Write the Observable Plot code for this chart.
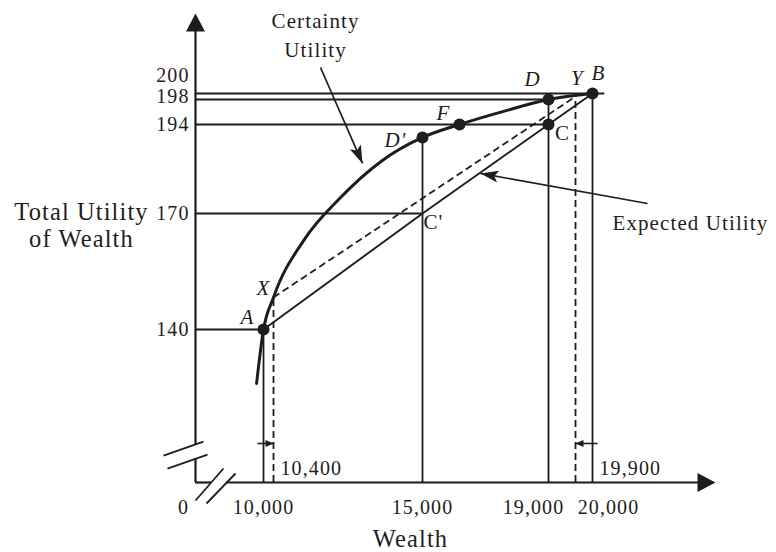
<!DOCTYPE html>
<html>
<head>
<meta charset="utf-8">
<script src="https://cdn.jsdelivr.net/npm/d3@7"></script>
<script src="https://cdn.jsdelivr.net/npm/@observablehq/plot@0.6"></script>
<style>
  html, body { margin: 0; padding: 0; background: #fff; }
</style>
</head>
<body>
<div id="chart"></div>
<script>
// ---------------- DATA ----------------
// Certainty utility curve (wealth, total utility)
const curveWealth  = [9780, 10000, 10400, 11330, 12470, 13730, 15000, 16175, 17570, 19000, 20000];
const curveUtility = [126, 140, 148.3, 163, 174.3, 184.1, 190.5, 194, 196.1, 198, 200];

// Named points
const pointNames   = ["A", "X", "C'", "D'", "F", "C", "D", "Y", "B"];
const pointWealth  = [10000, 10400, 15000, 15000, 16175, 19000, 19000, 19900, 20000];
const pointUtility = [140, 148.3, 170, 190.5, 194, 194, 198, 199, 200];
const pointMarked  = [true, false, false, true, true, true, true, false, true];

// Expected utility chord A -> C' -> C -> B, and the dashed chord X -> Y
const chordNames = ["A", "C'", "C", "B"];
const dashedChordNames = ["X", "Y"];

// Horizontal guides: utility level and the wealth where each guide stops
const guideUtility = [200, 198, 194, 170, 140];
const guideWealth  = [20400, 19000, 19000, 15000, 10000];
// Vertical guides (solid / dashed)
const dropWealth  = [10000, 15000, 19000, 20000];
const dropUtility = [140, 190.5, 198, 200];
const dashDropWealth  = [10400, 19900];
const dashDropUtility = [148.3, 199];

// Tick labels
const yTickValues = [200, 198, 194, 170, 140];
const xTickValues = [0, 10000, 15000, 19000, 20000];
const xTickLabels = ["0", "10,000", "15,000", "19,000", "20,000"];
const xInnerValues = [10400, 19900];
const xInnerLabels = ["10,400", "19,900"];

// Annotations
const certaintyText = "Certainty\nUtility";
const certaintyArrowFrom = [11851, 206.5];
const certaintyArrowTo   = [13148, 183.5];
const expectedText = "Expected Utility";
const expectedTextAt = [20650, 167.5];
const expectedArrowFrom = [21789, 172.7];
const expectedArrowTo   = [16841, 180.8];
const shiftArrowUtility = 61.6;
const shiftArrowFrom = [9810, 20163];
const shiftArrowTo   = [10400, 19900];

// Axis pieces (values): y axis broken between 37.9 and 60, x axis between 3945 and 7643
const yAxisPieces = [[0, 37.9], [60, 215.5]];
const xAxisPieces = [[0, 3945], [7643, 23500]];
const yAxisTop = 220, xAxisEnd = 24000;
const yBreakAt = 48.9, xBreakAt = 4931;

// ---------------- SCALES (schematic, piecewise) ----------------
const wealthDomain = [0, 9000, 10000, 10400, 15000, 19000, 19900, 20000, 24000];
const wealthRange  = [195, 231.5, 263, 273, 422, 548, 575, 592, 715];
const utilDomain = [0, 120, 140, 170, 194, 198, 200, 220];
const utilRange  = [482, 406, 329, 213, 124, 99, 93, 13];

// ---------------- STYLE ----------------
const INK = "#1f1d1c";
const SERIF = "'Liberation Serif', 'DejaVu Serif', serif";

const axisHead  = {draw(c) { c.moveTo(0, 0); c.lineTo(9.5, 18); c.lineTo(-9.5, 18); c.closePath(); }};
const barbHead  = {draw(c) { c.moveTo(0, 0); c.lineTo(6, 18); c.lineTo(0, 14); c.lineTo(-6, 18); c.closePath(); }};
const smallHead = {draw(c) { c.moveTo(0, 0); c.lineTo(3.5, 8); c.lineTo(-3.5, 8); c.closePath(); }};
const breakY = {draw(c) { c.moveTo(-32, 4); c.lineTo(8, -10); c.moveTo(-28, 17); c.lineTo(12, 3); }};
const breakX = {draw(c) { c.moveTo(-20, 18); c.lineTo(8, -14); c.moveTo(-9, 21); c.lineTo(20, -9); }};

const labelStyle = {
  "A":  {dx: -16, dy: -12, italic: true},
  "X":  {dx: -10, dy: -9,  italic: true},
  "C'": {dx: 11,  dy: 9,   italic: false},
  "D'": {dx: -27, dy: 3,   italic: true},
  "F":  {dx: -16, dy: -11, italic: true},
  "C":  {dx: 14,  dy: 9,   italic: false},
  "D":  {dx: -16, dy: -20, italic: true},
  "Y":  {dx: 2,   dy: -18, italic: true},
  "B":  {dx: 6,   dy: -20, italic: true}
};

// ---------------- TABLES ----------------
const curve = curveWealth.map((w, i) => ({w, u: curveUtility[i]}));
const points = pointNames.map((name, i) => ({name, w: pointWealth[i], u: pointUtility[i], marked: pointMarked[i]}));
const byName = Object.fromEntries(points.map(p => [p.name, p]));
const chord = chordNames.map(n => byName[n]);
const dashedChord = dashedChordNames.map(n => byName[n]);
const guides = guideUtility.map((u, i) => ({u, w: guideWealth[i]}));
const drops = dropWealth.map((w, i) => ({w, u: dropUtility[i]}));
const dashDrops = dashDropWealth.map((w, i) => ({w, u: dashDropUtility[i]}));
const xTicks = xTickValues.map((v, i) => ({v, label: xTickLabels[i]}));

const txt = (extra) => Object.assign({fontFamily: SERIF, fontSize: 20, fill: INK, lineAnchor: "middle"}, extra);

const pointLabelMarks = points.map(p => {
  const s = labelStyle[p.name];
  return Plot.text([p], txt({x: "w", y: "u", text: "name", dx: s.dx, dy: s.dy, fontSize: 21, fontStyle: s.italic ? "italic" : "normal"}));
});

const xTickMark = (label, dx) => Plot.text(xTicks.filter(t => t.label === label), txt({x: "v", y: () => 0, text: "label", dy: 25, dx}));

const chart = Plot.plot({
  width: 776,
  height: 552,
  marginTop: 0, marginRight: 0, marginBottom: 0, marginLeft: 0,
  x: {type: "linear", domain: wealthDomain, range: wealthRange, axis: null},
  y: {type: "linear", domain: utilDomain, range: utilRange, axis: null},
  style: `background:#fff;color:${INK};font-family:${SERIF};letter-spacing:1.1px;`,
  marks: [
    // axes
    ...yAxisPieces.map(([a, b]) => Plot.ruleX([0], {x: d => d, y1: () => a, y2: () => b, stroke: INK, strokeWidth: 2.2})),
    ...xAxisPieces.map(([a, b]) => Plot.ruleY([0], {y: d => d, x1: () => a, x2: () => b, stroke: INK, strokeWidth: 2.2})),
    Plot.dot([0], {x: () => 0, y: () => yAxisTop, symbol: axisHead, fill: INK, stroke: "none"}),
    Plot.dot([0], {x: () => xAxisEnd, y: () => 0, symbol: axisHead, rotate: 90, fill: INK, stroke: "none"}),
    Plot.dot([0], {x: () => 0, y: () => yBreakAt, symbol: breakY, fill: "none", stroke: INK, strokeWidth: 1.8}),
    Plot.dot([0], {x: () => xBreakAt, y: () => 0, symbol: breakX, fill: "none", stroke: INK, strokeWidth: 1.8}),

    // guides
    Plot.ruleY(guides, {y: "u", x1: () => 0, x2: "w", stroke: INK, strokeWidth: 1.8}),
    Plot.ruleX(drops, {x: "w", y1: () => 0, y2: "u", stroke: INK, strokeWidth: 1.8}),
    Plot.ruleX(dashDrops, {x: "w", y1: () => 0, y2: "u", stroke: INK, strokeWidth: 1.8, strokeDasharray: "7,4"}),

    // chords
    Plot.line(chord, {x: "w", y: "u", stroke: INK, strokeWidth: 1.9}),
    Plot.line(dashedChord, {x: "w", y: "u", stroke: INK, strokeWidth: 1.8, strokeDasharray: "7,4", strokeLinecap: "butt"}),

    // certainty utility curve
    Plot.line(curve, {x: "w", y: "u", curve: "monotone-x", stroke: INK, strokeWidth: 3}),

    // points
    Plot.dot(points.filter(p => p.marked), {x: "w", y: "u", r: 6, fill: INK, stroke: "none"}),
    ...pointLabelMarks,

    // annotation arrows
    Plot.link([0], {x1: () => certaintyArrowFrom[0], y1: () => certaintyArrowFrom[1], x2: () => certaintyArrowTo[0], y2: () => certaintyArrowTo[1], stroke: INK, strokeWidth: 1.7, strokeLinecap: "butt"}),
    Plot.dot([0], {x: () => certaintyArrowTo[0], y: () => certaintyArrowTo[1], symbol: barbHead, rotate: 156.4, fill: INK, stroke: "none"}),
    Plot.link([0], {x1: () => expectedArrowFrom[0], y1: () => expectedArrowFrom[1], x2: () => expectedArrowTo[0], y2: () => expectedArrowTo[1], stroke: INK, strokeWidth: 1.7, strokeLinecap: "butt"}),
    Plot.dot([0], {x: () => expectedArrowTo[0], y: () => expectedArrowTo[1], symbol: barbHead, rotate: 280.2, fill: INK, stroke: "none"}),
    Plot.link([0, 1], {x1: i => shiftArrowFrom[i], x2: i => shiftArrowTo[i], y1: () => shiftArrowUtility, y2: () => shiftArrowUtility, stroke: INK, strokeWidth: 1.6, strokeLinecap: "butt"}),
    Plot.dot([0], {x: () => shiftArrowTo[0], y: () => shiftArrowUtility, symbol: smallHead, rotate: 90, fill: INK, stroke: "none"}),
    Plot.dot([0], {x: () => shiftArrowTo[1], y: () => shiftArrowUtility, symbol: smallHead, rotate: 270, fill: INK, stroke: "none"}),

    // annotation texts
    Plot.text([certaintyText], txt({x: () => 11700, frameAnchor: "top", text: d => d, lineAnchor: "top", lineHeight: 1.35, dy: 7.6, fontSize: 21, textAnchor: "middle"})),
    Plot.text([expectedText], txt({x: () => expectedTextAt[0], y: () => expectedTextAt[1], text: d => d, textAnchor: "start", fontSize: 21})),

    // axis titles
    Plot.text(["Total Utility\nof Wealth"], txt({frameAnchor: "left", y: () => 170, text: d => d, dx: 81, dy: -13, lineAnchor: "top", lineHeight: 1.12, fontSize: 24.5, textAnchor: "middle"})),
    Plot.text(["Wealth"], txt({frameAnchor: "bottom", text: d => d, dx: 22, dy: -13, lineAnchor: "middle", fontSize: 24.5, textAnchor: "middle"})),

    // y tick labels
    Plot.text(yTickValues.filter(v => v < 198), txt({x: () => 0, y: d => d, text: d => String(d), textAnchor: "end", dx: -6})),
    Plot.text([198], txt({x: () => 0, y: d => d, text: d => String(d), textAnchor: "end", dx: -6, dy: -3})),
    Plot.text([200], txt({x: () => 0, y: d => d, text: d => String(d), textAnchor: "end", dx: -6, dy: -18})),

    // x tick labels
    xTickMark("0", -12),
    xTickMark("10,000", 0),
    xTickMark("15,000", 0),
    xTickMark("19,000", -15),
    xTickMark("20,000", 16),
    Plot.text([0], txt({x: () => xInnerValues[0], y: () => 0, text: () => xInnerLabels[0], textAnchor: "start", dx: 7, dy: -14})),
    Plot.text([0], txt({x: () => xInnerValues[1], y: () => 0, text: () => xInnerLabels[1], textAnchor: "start", dx: 24, dy: -14}))
  ]
});

document.getElementById("chart").append(chart);
</script>
</body>
</html>
